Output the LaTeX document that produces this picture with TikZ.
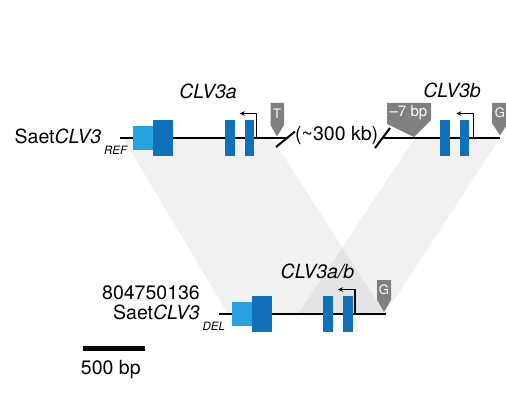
\documentclass[tikz,border=0pt]{standalone}
\usepackage{fontspec}
\setmainfont{TeX Gyre Heros}
\usetikzlibrary{arrows.meta,positioning}
\definecolor{utrblue}{RGB}{40,162,223}
\definecolor{cdsblue}{RGB}{16,112,186}
\definecolor{markgray}{RGB}{128,128,128}
\tikzset{
  band/.style={fill=black, fill opacity=0.055},
  chrom/.style={line width=2pt},
  tss/.style={line width=1.1pt, -{Stealth[length=5pt,width=4.5pt]}},
  glabel/.style={font=\fontsize{19.5}{23}\selectfont, inner sep=0pt},
  sublabel/.style={font=\fontsize{11.5}{14}\selectfont\itshape, inner sep=0pt},
  marktext/.style={text=white, inner sep=0pt, font=\fontsize{13}{15}\selectfont},
}
\begin{document}
\begin{tikzpicture}[x=1pt, y=-1pt]
  \useasboundingbox (0,0) rectangle (506,401);
  % Synteny bands
  \fill[band] (123,138) -- (272,138) -- (385,314) -- (228,314) -- cycle;
  \fill[band] (415,138) -- (500,138) -- (385,314) -- (298,314) -- cycle;
  % Chromosome lines
  \draw[chrom] (120,138) -- (287,138);
  \draw[chrom] (383,138) -- (500,138);
  \draw[chrom] (219,314) -- (386,314);
  % Breaks
  \draw[chrom] (276,147) -- (295,131.5);
  \draw[chrom] (375,148) -- (390,128);
  % UTR and first exon
  \foreach \x/\y in {133/138, 231.5/314} {
    \fill[utrblue] (\x,\y-12) rectangle (\x+20,\y+12);
    \fill[cdsblue] (\x+20,\y-18) rectangle (\x+40,\y+18);
  }
  % Exon pairs
  \foreach \x/\y in {225/138, 440/138, 323.3/314} {
    \fill[cdsblue] (\x,\y-18) rectangle (\x+9.5,\y+18);
    \fill[cdsblue] (\x+19.6,\y-18) rectangle (\x+29.2,\y+18);
  }
  % TSS arrows
  \foreach \x/\y in {256.7/138, 473.3/138, 355/314} {
    \draw[tss] (\x,\y) |- (\x-17,\y-24.5);
  }
  % Markers
  \fill[markgray] (270.5,103) -- (284,103) -- (284,125) -- (277,136.5) -- (270.5,125) -- cycle;
  \fill[markgray] (387,103) -- (431,103) -- (431,120) -- (414,137) -- (387,124) -- cycle;
  \fill[markgray] (492,103) -- (508,103) -- (508,123) -- (500,135.5) -- (492,123) -- cycle;
  \fill[markgray] (377,280) -- (391,280) -- (391,300) -- (384,312) -- (377,300) -- cycle;
  \node (markT) [marktext] at (277,113.5) {T};
  \node (markdel) [marktext, font=\fontsize{15}{17}\selectfont] at (408.5,113) {\textendash7 bp};
  \node (markGa) [marktext] at (500,113) {G};
  \node (markGb) [marktext] at (384,290) {G};
  % Gene labels
  \node (geneA) [glabel, anchor=base] at (208,98.5) {\textit{CLV3a}};
  \node (geneB) [glabel, anchor=base] at (452,97.5) {\textit{CLV3b}};
  \node (geneAB) [glabel, anchor=base] at (317.5,278.5) {\textit{CLV3a/b}};
  \node (gap) [glabel, anchor=base west] at (295,141) {(\textasciitilde300 kb)};
  % Allele labels
  \node (refname) [glabel, anchor=base west] at (14.5,144) {Saet\textit{CLV3}};
  \node (refsub) [sublabel, right=2.5pt of refname.base east, yshift=-10pt, anchor=base west] {REF};
  \node (accession) [glabel, anchor=base east] at (200,299.3) {804750136};
  \node (delname) [glabel, anchor=base west] at (113,319) {Saet\textit{CLV3}};
  \node (delsub) [sublabel, right=2.5pt of delname.base east, yshift=-11pt, anchor=base west] {DEL};
  % Scale bar
  \coordinate (barL) at (83,348.3);
  \coordinate (barR) at (145,348.3);
  \draw[line width=4.5pt] (barL) -- (barR);
  \node (barlabel) [glabel, anchor=base] at (110.8,374.5) {500 bp};
\end{tikzpicture}
\end{document}
